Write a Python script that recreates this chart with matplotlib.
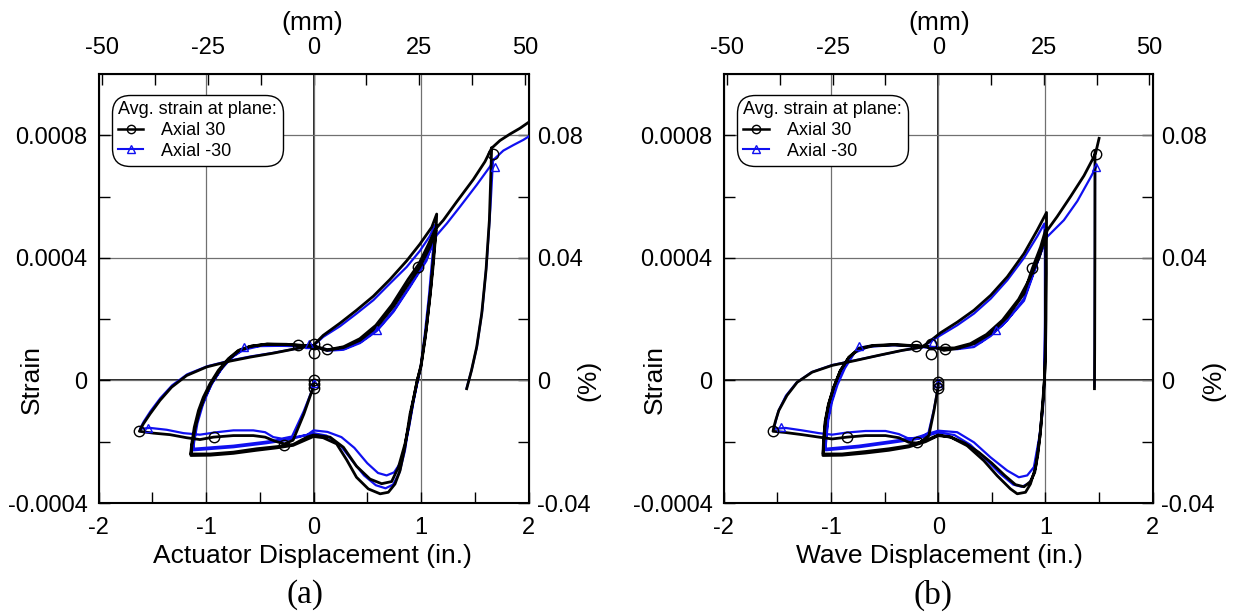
import numpy as np
import matplotlib
matplotlib.use('Agg')
import matplotlib.pyplot as plt
from matplotlib.ticker import FixedLocator, FixedFormatter, MultipleLocator
from matplotlib.lines import Line2D

plt.rcParams['font.family'] = ['Liberation Sans', 'DejaVu Sans']
plt.rcParams['axes.unicode_minus'] = False

nan = np.nan
BLUE = '#1010f0'

# digitised curves: (displacement in., strain in microstrain), None = pen up
# ---- panel (a): actuator displacement ----
a_axial30 = [
    (0, 0), (0, -20), (-0.09, -110), (-0.19, -195), (-0.27, -207), (-0.36, -198), (-0.45, -185),
    (-0.56, -180), (-0.745, -180), (-0.93, -185), (-1.056, -193), (-1.18, -187), (-1.335, -177),
    (-1.49, -172), (-1.62, -166),
    (-1.583, -142), (-1.52, -109), (-1.428, -65), (-1.32, -22), (-1.18, 16), (-0.994, 44),
    (-0.777, 63), (-0.59, 76), (-0.374, 89), (-0.157, 104), (0, 115),
    (0.09, 147), (0.247, 187), (0.40, 229), (0.557, 275), (0.71, 329), (0.866, 390), (0.99, 445),
    (1.1, 500), (1.146, 543),
    (1.14, 490), (1.115, 380), (1.083, 270), (1.04, 140), (1.0, 45), (0.965, 0), (0.925, -70),
    (0.885, -150), (0.851, -207), (0.79, -283), (0.727, -330), (0.634, -337), (0.526, -322),
    (0.40, -280), (0.278, -218), (0.154, -185), (0, -178),
    (-0.06, -185), (-0.19, -209), (-0.34, -216), (-0.53, -223), (-0.745, -234), (-0.96, -240),
    (-1.143, -240),
    (-1.133, -207), (-1.109, -153), (-1.07, -98), (-1.025, -55), (-0.963, -11), (-0.885, 33),
    (-0.792, 71), (-0.699, 98), (-0.59, 111), (-0.436, 118), (-0.25, 117), (-0.126, 114), (0, 112),
    (0.122, 98), (0.278, 107), (0.433, 131), (0.588, 174), (0.742, 240), (0.897, 322), (0.99, 370),
    (1.083, 436), (1.14, 490),
    (1.12, 420), (1.09, 300), (1.05, 170), (1.0, 50), (0.965, 0), (0.93, -60), (0.898, -109),
    (0.85, -218), (0.805, -294), (0.758, -338), (0.696, -365), (0.62, -370), (0.51, -354),
    (0.40, -316), (0.31, -260), (0.215, -207), (0.09, -187), (0, -183),
    (-0.19, -212), (-0.34, -220), (-0.53, -228), (-0.745, -238), (-0.96, -244), (-1.14, -245),
    (-1.13, -210), (-1.10, -155), (-1.06, -100), (-1.015, -56), (-0.955, -12), (-0.875, 32),
    (-0.785, 70), (-0.69, 98), (-0.58, 112), (-0.43, 119), (-0.25, 118), (-0.12, 115), (0, 113),
    (0.13, 100), (0.28, 110), (0.43, 136), (0.58, 180), (0.73, 247), (0.88, 330), (0.98, 380),
    (1.07, 445), (1.13, 492),
    (1.208, 523), (1.332, 583), (1.487, 656), (1.595, 714), (1.657, 758),
    (1.735, 783), (1.828, 804), (1.921, 823), (2.02, 847),
    None,
    (1.657, 758), (1.651, 687), (1.636, 523), (1.605, 360), (1.565, 218), (1.518, 109),
    (1.47, 33), (1.425, -27),
]
a_axial_m30 = [
    (0, 0), (0, -20), (-0.09, -100), (-0.2, -183), (-0.296, -190), (-0.374, -185), (-0.45, -169),
    (-0.56, -163), (-0.745, -163), (-0.9, -169), (-1.056, -177), (-1.21, -172), (-1.366, -161),
    (-1.52, -155), (-1.614, -158),
    (-1.58, -135), (-1.515, -100), (-1.425, -58), (-1.315, -16), (-1.175, 20), (-0.99, 46),
    (-0.775, 65), (-0.59, 78), (-0.374, 90), (-0.157, 104), (0, 113),
    (0.09, 142), (0.247, 177), (0.40, 218), (0.557, 262), (0.71, 316), (0.866, 370), (0.99, 423),
    (1.08, 470), (1.13, 507),
    (1.12, 460), (1.1, 380), (1.075, 280), (1.035, 150), (0.995, 40), (0.97, 0), (0.93, -70),
    (0.89, -150), (0.85, -215), (0.81, -268), (0.75, -300), (0.68, -310), (0.6, -302),
    (0.5, -270), (0.38, -220), (0.26, -185), (0.13, -168), (0, -163),
    (-0.06, -178), (-0.25, -190), (-0.44, -200), (-0.745, -213), (-1.12, -223),
    (-1.11, -190), (-1.09, -140), (-1.05, -92), (-1.0, -50), (-0.94, -8), (-0.86, 36),
    (-0.77, 73), (-0.67, 98), (-0.57, 110), (-0.43, 115), (-0.25, 114), (-0.12, 112), (0, 110),
    (0.13, 97), (0.278, 100), (0.433, 122), (0.588, 161), (0.742, 223), (0.897, 305),
    (1.05, 390), (1.13, 474),
    (1.115, 410), (1.09, 300), (1.05, 170), (1.0, 45), (0.97, 0), (0.93, -65), (0.89, -140),
    (0.85, -230), (0.8, -300), (0.74, -340), (0.67, -352), (0.58, -342), (0.47, -310),
    (0.36, -262), (0.25, -212), (0.12, -180), (0, -172),
    (-0.25, -195), (-0.44, -205), (-0.745, -218), (-1.12, -228),
    (-1.11, -200), (-1.08, -140), (-1.03, -80), (-0.95, -12), (-0.85, 40), (-0.75, 78),
    (-0.65, 100), (-0.5, 112), (-0.3, 113), (0, 110),
    (0.15, 100), (0.3, 105), (0.45, 128), (0.6, 168), (0.75, 230), (0.9, 310), (1.05, 395),
    (1.146, 474), (1.24, 512), (1.363, 567), (1.518, 638), (1.642, 698), (1.68, 722),
    (1.766, 750), (1.859, 768), (1.952, 785), (2.02, 800),
    None,
    (1.67, 720), (1.645, 560), (1.61, 380), (1.57, 230), (1.52, 110), (1.47, 33), (1.425, -25),
]
a_axial30_marks = [(-1.62, -166), (-0.93, -185), (-0.27, -210), (-0.146, 114), (0, 120), (0, 89),
                   (0.124, 104), (0, 0), (0, -12), (0, -25), (0.975, 370), (1.673, 740)]
a_axial_m30_marks = [(-1.536, -155), (-0.647, 109), (-0.04, 118), (0, -8), (0.59, 164), (1.69, 695)]

# ---- panel (b): wave displacement ----
b_axial30 = [
    (0, 0), (0, -20), (-0.04, -100), (-0.087, -180), (-0.18, -205), (-0.274, -202), (-0.367, -187),
    (-0.491, -180), (-0.678, -180), (-0.849, -185), (-0.989, -191), (-1.113, -185), (-1.269, -177),
    (-1.424, -170), (-1.54, -166),
    (-1.533, -153), (-1.515, -130), (-1.486, -98), (-1.41, -49), (-1.315, -6), (-1.175, 27),
    (-0.989, 49), (-0.771, 65), (-0.553, 82), (-0.336, 98), (-0.149, 109), (-0.07, 130),
    (0.02, 155), (0.177, 190), (0.333, 229), (0.49, 278), (0.644, 338), (0.8, 414), (0.923, 490),
    (1.01, 548),
    (1.01, 500), (1.008, 350), (1.005, 200), (1.0, 80), (0.99, 0), (0.975, -70), (0.955, -160),
    (0.93, -240), (0.9, -300), (0.86, -330), (0.8, -347), (0.72, -340), (0.62, -310), (0.5, -270),
    (0.38, -235), (0.25, -205), (0.12, -185), (0, -178),
    (-0.118, -196), (-0.274, -213), (-0.46, -223), (-0.678, -232), (-0.896, -240), (-1.073, -240),
    (-1.066, -196), (-1.05, -131), (-1.02, -76), (-0.973, -22), (-0.911, 33), (-0.833, 76),
    (-0.74, 104), (-0.616, 114), (-0.429, 117), (-0.243, 114), (-0.118, 111), (0, 105),
    (0.053, 98), (0.177, 104), (0.333, 120), (0.49, 153), (0.644, 207), (0.8, 283), (0.877, 365),
    (0.955, 436), (1.0, 490),
    (1.003, 350), (1.0, 150), (0.995, 40), (0.99, 0), (0.979, -65), (0.948, -185), (0.908, -283),
    (0.86, -338), (0.814, -365), (0.737, -370), (0.674, -354), (0.55, -311), (0.426, -262),
    (0.27, -213), (0.115, -185), (0, -180),
    (-0.118, -200), (-0.274, -217), (-0.46, -228), (-0.678, -237), (-0.896, -244), (-1.075, -245),
    (-1.07, -200), (-1.055, -135), (-1.025, -80), (-0.978, -25), (-0.915, 30), (-0.835, 74),
    (-0.74, 102), (-0.6, 113), (-0.4, 116), (-0.2, 113), (0, 106),
    (0.15, 106), (0.3, 120), (0.45, 150), (0.6, 197), (0.75, 265), (0.85, 330), (0.94, 400),
    (1.0, 470), (1.017, 490),
    (1.11, 535), (1.234, 600), (1.359, 668), (1.452, 730), (1.47, 745), (1.5, 790),
    None,
    (1.462, 750), (1.461, 400), (1.459, 100), (1.457, -27),
]
b_axial_m30 = [
    (0, 0), (0, -20), (-0.04, -95), (-0.09, -170), (-0.18, -190), (-0.274, -190), (-0.367, -175),
    (-0.491, -165), (-0.678, -165), (-0.849, -170), (-0.989, -177), (-1.113, -172), (-1.269, -163),
    (-1.424, -155), (-1.53, -158),
    (-1.52, -140), (-1.49, -100), (-1.42, -50), (-1.32, -7), (-1.18, 27), (-0.99, 50), (-0.77, 66),
    (-0.55, 82), (-0.336, 98), (-0.149, 108), (-0.07, 127),
    (0.02, 147), (0.177, 180), (0.333, 218), (0.49, 267), (0.644, 327), (0.8, 400), (0.923, 470),
    (0.99, 512),
    (0.995, 400), (0.995, 200), (0.99, 0), (0.975, -80), (0.945, -180), (0.892, -283),
    (0.83, -310), (0.752, -316), (0.643, -294), (0.488, -251), (0.333, -202), (0.177, -169),
    (0, -164),
    (-0.211, -187), (-0.429, -198), (-0.74, -213), (-1.05, -223),
    (-1.045, -190), (-1.03, -130), (-1.0, -75), (-0.955, -20), (-0.895, 33), (-0.82, 76),
    (-0.74, 107), (-0.6, 114), (-0.43, 116), (-0.24, 113), (0, 105),
    (0.177, 102), (0.333, 109), (0.49, 145), (0.644, 196), (0.8, 267), (0.955, 414), (1.0, 474),
    (1.0, 300), (0.995, 100), (0.99, 0), (0.975, -100), (0.94, -200), (0.9, -300), (0.85, -335),
    (0.78, -347), (0.7, -340), (0.58, -305), (0.45, -260), (0.3, -210), (0.15, -178), (0, -170),
    (-0.211, -192), (-0.429, -203), (-0.74, -218), (-1.05, -228),
    (-1.045, -195), (-1.025, -130), (-0.99, -70), (-0.94, -15), (-0.87, 40), (-0.78, 90),
    (-0.65, 110), (-0.4, 115), (0, 105),
    (0.2, 105), (0.4, 125), (0.6, 180), (0.8, 260), (0.95, 410), (1.017, 469), (1.172, 523),
    (1.297, 585), (1.42, 662), (1.474, 698),
    None,
    (1.462, 700), (1.461, 400), (1.459, 100), (1.457, -20),
]
b_axial30_marks = [(-1.54, -164), (-0.849, -183), (-0.196, -202), (-0.205, 112), (-0.07, 120),
                   (-0.07, 85), (0.06, 104), (0, -5), (0, -15), (0, -25), (0.877, 368), (1.474, 740)]
b_axial_m30_marks = [(-1.47, -153), (-0.74, 111), (-0.05, 125), (0, -10), (0.535, 163), (1.474, 695)]

series_labels = ['Axial 30', 'Axial -30']
legend_title = 'Avg. strain at plane:'
strain_ticks = [-0.0004, 0, 0.0004, 0.0008]
strain_tick_labels = ['-0.0004', '0', '0.0004', '0.0008']
pct_ticks = [-0.04, 0, 0.04, 0.08]
pct_tick_labels = ['-0.04', '0', '0.04', '0.08']
mm_ticks = [-50, -25, 0, 25, 50]


def to_xy(pts):
    x = [nan if p is None else p[0] for p in pts]
    y = [nan if p is None else p[1] * 1e-6 for p in pts]
    return np.array(x), np.array(y)


def draw_panel(ax, k_pts, b_pts, k_marks, b_marks):
    bx, by = to_xy(b_pts)
    kx, ky = to_xy(k_pts)
    ax.plot(bx, by, color=BLUE, lw=1.6, zorder=3, solid_joinstyle='round')
    ax.plot(kx, ky, color='black', lw=2.0, zorder=4, solid_joinstyle='round')
    mx, my = to_xy(b_marks)
    ax.plot(mx, my, ls='none', marker='^', ms=6, mfc='none', mec=BLUE, mew=1.0, zorder=5)
    mx, my = to_xy(k_marks)
    ax.plot(mx, my, ls='none', marker='o', ms=7.5, mfc='none', mec='black', mew=1.0, zorder=6)

    ax.set_xlim(-2, 2)
    ax.set_ylim(-0.0004, 0.001)
    ax.xaxis.set_major_locator(FixedLocator([-2, -1, 0, 1, 2]))
    ax.xaxis.set_minor_locator(MultipleLocator(0.5))
    ax.set_xticklabels(['-2', '-1', '0', '1', '2'])
    ax.yaxis.set_major_locator(FixedLocator(strain_ticks))
    ax.yaxis.set_major_formatter(FixedFormatter(strain_tick_labels))
    ax.yaxis.set_minor_locator(FixedLocator([-0.0002, 0.0002, 0.0006]))
    ax.tick_params(which='both', direction='in', length=8, width=1, top=False, right=False,
                   labelsize=17)
    ax.tick_params(axis='x', pad=10)
    ax.tick_params(axis='y', pad=8)
    ax.grid(True, which='major', color='#707070', lw=0.9)
    ax.axhline(0, color='black', lw=1.2, zorder=1)
    ax.axvline(0, color='black', lw=1.2, zorder=1)
    for s in ax.spines.values():
        s.set_linewidth(1.5)

    top = ax.secondary_xaxis('top', functions=(lambda v: v * 25.4, lambda v: v / 25.4))
    top.xaxis.set_major_locator(FixedLocator(mm_ticks))
    top.xaxis.set_major_formatter(FixedFormatter([str(t) for t in mm_ticks]))
    top.xaxis.set_minor_locator(FixedLocator([-37.5, -12.5, 12.5, 37.5]))
    top.tick_params(which='both', direction='in', length=8, width=1, labelsize=17, pad=11)

    right = ax.secondary_yaxis('right', functions=(lambda v: v * 100, lambda v: v / 100))
    right.yaxis.set_major_locator(FixedLocator(pct_ticks))
    right.yaxis.set_major_formatter(FixedFormatter(pct_tick_labels))
    right.yaxis.set_minor_locator(FixedLocator([-0.02, 0.02, 0.06]))
    right.tick_params(which='both', direction='in', length=8, width=1, labelsize=17, pad=6)

    handles = [
        Line2D([0], [0], color='black', lw=1.8, marker='o', ms=6, mfc='none', mec='black'),
        Line2D([0], [0], color=BLUE, lw=1.5, marker='^', ms=6, mfc='none', mec=BLUE),
    ]
    leg = ax.legend(handles, series_labels, title=legend_title, loc='upper left',
                    bbox_to_anchor=(0.031, 0.951), borderaxespad=0, fontsize=13,
                    title_fontsize=13, alignment='left', handlelength=1.4, handletextpad=1.0,
                    borderpad=0.35, labelspacing=0.2, numpoints=1, fancybox=True,
                    framealpha=1, edgecolor='black')
    leg.get_frame().set_linewidth(1.0)
    leg.get_frame().set_boxstyle('round', pad=0, rounding_size=1.0)
    leg.set_zorder(10)


W, H = 1234, 615
fig = plt.figure(figsize=(W / 100, H / 100), dpi=100)
ax1 = fig.add_axes([98.5 / W, 1 - 503 / H, 430 / W, 429 / H])
ax2 = fig.add_axes([723.7 / W, 1 - 503 / H, 429 / W, 429 / H])

draw_panel(ax1, a_axial30, a_axial_m30, a_axial30_marks, a_axial_m30_marks)
draw_panel(ax2, b_axial30, b_axial_m30, b_axial30_marks, b_axial_m30_marks)


def ftext(px, py, s, **kw):
    fig.text(px / W, 1 - py / H, s, ha='center', va='center', **kw)


# axis titles placed as in the figure
ftext(312, 556, 'Actuator Displacement (in.)', fontsize=19)
ftext(939, 556, 'Wave Displacement (in.)', fontsize=19)
ftext(312, 23, '(mm)', fontsize=19)
ftext(939, 23, '(mm)', fontsize=19)
ftext(31.5, 380, 'Strain', fontsize=19, rotation=90)
ftext(655, 380, 'Strain', fontsize=19, rotation=90)
ftext(588, 380, '(%)', fontsize=19, rotation=90)
ftext(1213, 380, '(%)', fontsize=19, rotation=90)
ftext(305, 595, '(a)', fontsize=24, family='Liberation Serif')
ftext(933, 595, '(b)', fontsize=24, family='Liberation Serif')

fig.savefig('out.png', dpi=100)
